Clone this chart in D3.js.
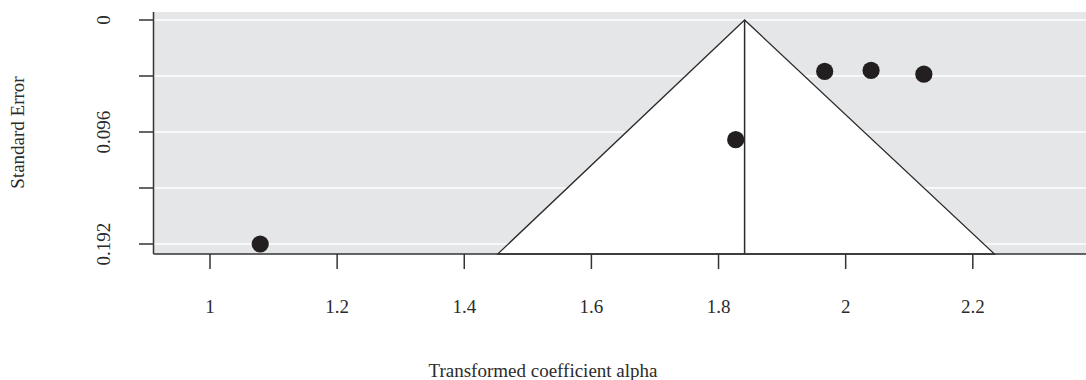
<!DOCTYPE html>
<html>
<head>
<meta charset="utf-8">
<script src="https://cdn.jsdelivr.net/npm/d3@7"></script>
<style>
  html, body { margin: 0; padding: 0; background: #ffffff; }
  svg { display: block; }
  text { font-family: "Liberation Serif", "DejaVu Serif", serif; fill: #2b2b2b; }
</style>
</head>
<body>
<svg id="chart" width="1086" height="380"></svg>
<script>
// ---- data ----
const studyEstimates = [1.079, 1.827, 1.967, 2.040, 2.123];
const studySE        = [0.192, 0.1026, 0.0441, 0.0432, 0.0464];
const pooledEstimate = [1.841];
const xTickValues = [1, 1.2, 1.4, 1.6, 1.8, 2, 2.2];
const xTickLabels = ["1", "1.2", "1.4", "1.6", "1.8", "2", "2.2"];
const yTickValues = [0, 0.048, 0.096, 0.144, 0.192];
const yTickLabels = ["0", "", "0.096", "", "0.192"];
const xAxisTitle = ["Transformed coefficient alpha"];
const yAxisTitle = ["Standard Error"];

// ---- layout ----
const panel = { left: 153.5, right: 1090, top: 12, bottom: 254 };
const svg = d3.select("#chart");
const fs = 19;

const x = d3.scaleLinear().domain([1, 2.2]).range([210, 972.8]);
const y = d3.scaleLinear().domain([0, 0.192]).range([20, 244]);

// panel background
svg.append("rect")
  .attr("x", panel.left).attr("y", panel.top)
  .attr("width", panel.right - panel.left)
  .attr("height", panel.bottom - panel.top)
  .attr("fill", "#e5e6e8");

// horizontal white gridlines
svg.append("g").selectAll("line").data(yTickValues).join("line")
  .attr("x1", panel.left).attr("x2", panel.right)
  .attr("y1", d => y(d)).attr("y2", d => y(d))
  .attr("stroke", "#ffffff").attr("stroke-width", 1.3);

// funnel triangle
const est = pooledEstimate[0];
const seBottom = y.invert(panel.bottom);
const tri = [
  [x(est), y(0)],
  [x(est - 1.96 * seBottom) + 3, y(seBottom)],
  [x(est + 1.96 * seBottom), y(seBottom)]
];
svg.append("path")
  .attr("d", d3.line()(tri) + "Z")
  .attr("fill", "#ffffff")
  .attr("stroke", "#2b2b2b")
  .attr("stroke-width", 1.3);

// vertical line at pooled estimate
svg.append("line")
  .attr("x1", x(est)).attr("x2", x(est))
  .attr("y1", y(0)).attr("y2", panel.bottom)
  .attr("stroke", "#2b2b2b").attr("stroke-width", 1.5);

// points
svg.append("g").selectAll("circle").data(studyEstimates).join("circle")
  .attr("cx", d => x(d))
  .attr("cy", (d, i) => y(studySE[i]))
  .attr("r", 8.6)
  .attr("fill", "#231f20");

// axes lines
svg.append("line")
  .attr("x1", panel.left).attr("x2", panel.right)
  .attr("y1", panel.bottom).attr("y2", panel.bottom)
  .attr("stroke", "#333").attr("stroke-width", 1.5);
svg.append("line")
  .attr("x1", panel.left).attr("x2", panel.left)
  .attr("y1", panel.top).attr("y2", panel.bottom)
  .attr("stroke", "#333").attr("stroke-width", 1.5);

// x axis ticks & labels
const xg = svg.append("g");
xg.selectAll("line").data(xTickValues).join("line")
  .attr("x1", d => x(d)).attr("x2", d => x(d))
  .attr("y1", panel.bottom).attr("y2", 269)
  .attr("stroke", "#333").attr("stroke-width", 1.5);
xg.selectAll("text").data(xTickValues).join("text")
  .attr("x", d => x(d)).attr("y", 313)
  .attr("text-anchor", "middle")
  .attr("font-size", fs)
  .text((d, i) => xTickLabels[i]);

// y axis ticks & labels
const yg = svg.append("g");
yg.selectAll("line").data(yTickValues).join("line")
  .attr("x1", 139).attr("x2", panel.left)
  .attr("y1", d => y(d)).attr("y2", d => y(d))
  .attr("stroke", "#333").attr("stroke-width", 1.5);
yg.selectAll("text").data(yTickValues).join("text")
  .attr("transform", d => `translate(110,${y(d)}) rotate(-90)`)
  .attr("text-anchor", "middle")
  .attr("font-size", fs)
  .text((d, i) => yTickLabels[i]);

// axis titles
svg.append("text")
  .attr("x", 543).attr("y", 377)
  .attr("text-anchor", "middle")
  .attr("font-size", fs)
  .text(xAxisTitle[0]);
svg.append("text")
  .attr("transform", "translate(24,132.5) rotate(-90)")
  .attr("text-anchor", "middle")
  .attr("font-size", fs)
  .text(yAxisTitle[0]);
</script>
</body>
</html>
